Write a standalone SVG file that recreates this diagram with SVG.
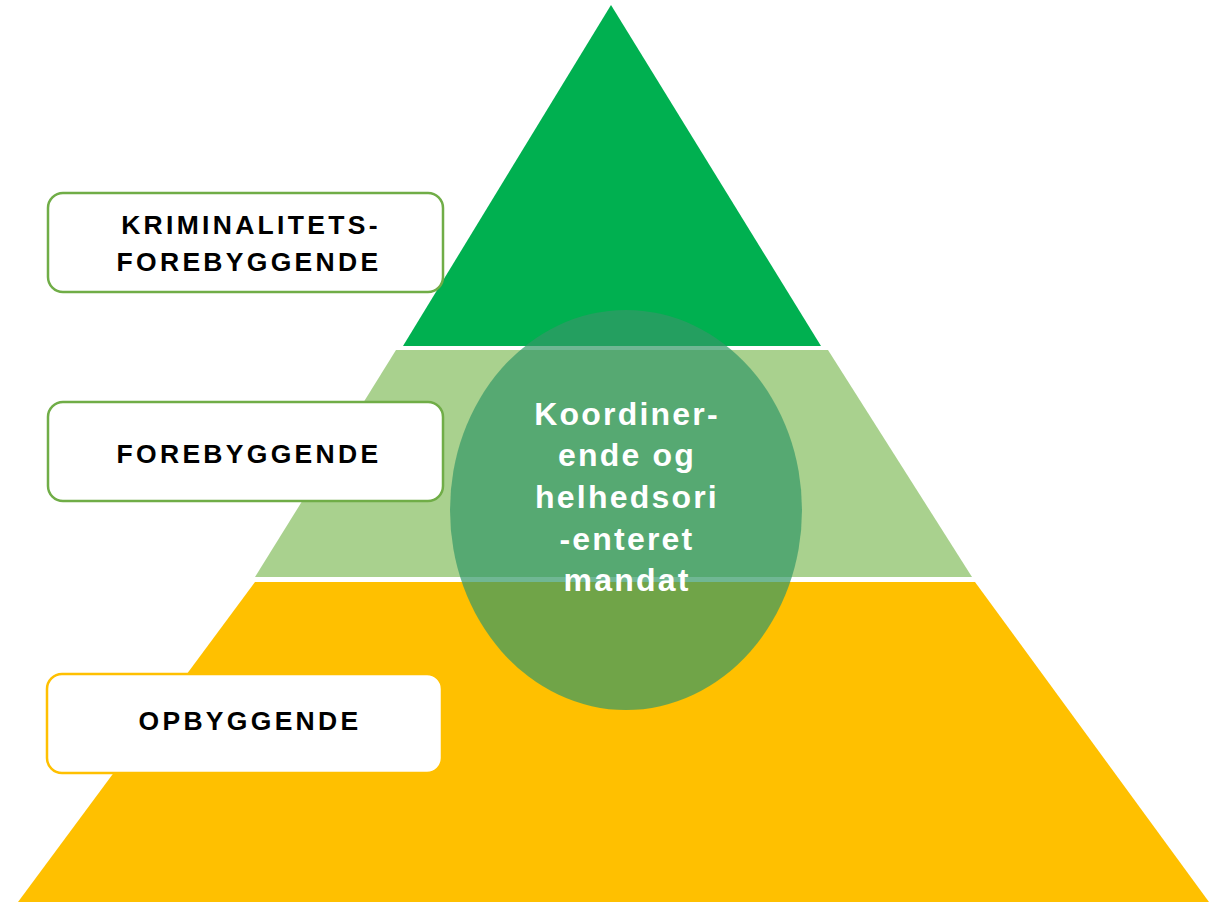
<svg xmlns="http://www.w3.org/2000/svg" width="1209" height="902" viewBox="0 0 1209 902">
<style>
.lbl{font-family:"Liberation Sans",Arial,sans-serif;font-weight:bold;font-size:26.5px;fill:#000;text-anchor:middle;letter-spacing:3.3px}
.ctr{font-family:"Liberation Sans",Arial,sans-serif;font-weight:bold;font-size:32px;fill:#fff;text-anchor:middle;letter-spacing:2.2px}
.box{fill:#fff;stroke-width:2.5}
</style>
<rect width="1209" height="902" fill="#fff"/>
<g id="tier-bottom"><polygon points="255,582 975,582 1209,902 18,902" fill="#FFC000"/></g>
<g id="tier-middle"><polygon points="396,350 828,350 972,577 255,577" fill="#A9D18E"/></g>
<g id="tier-top"><polygon points="611,5 821,346 403,346" fill="#00B050"/></g>
<g id="center"><ellipse cx="626" cy="510" rx="176" ry="200" fill="#339966" fill-opacity="0.7"/>
<text class="ctr" x="627" y="425">Koordiner-</text>
<text class="ctr" x="627" y="466">ende og</text>
<text class="ctr" x="627" y="508">helhedsori</text>
<text class="ctr" x="627" y="550">-enteret</text>
<text class="ctr" x="627" y="591">mandat</text></g>
<g id="box1"><rect class="box" x="48" y="193" width="395" height="99" rx="15" stroke="#70AD47"/>
<text class="lbl" x="251" y="234">KRIMINALITETS-</text>
<text class="lbl" x="249" y="271">FOREBYGGENDE</text></g>
<g id="box2"><rect class="box" x="48" y="402" width="395" height="99" rx="15" stroke="#70AD47"/>
<text class="lbl" x="249" y="463">FOREBYGGENDE</text></g>
<g id="box3"><rect class="box" x="47" y="674" width="395" height="99" rx="15" stroke="#FFC000"/>
<text class="lbl" x="250" y="730">OPBYGGENDE</text></g>
<g id="connectors"/>
</svg>
